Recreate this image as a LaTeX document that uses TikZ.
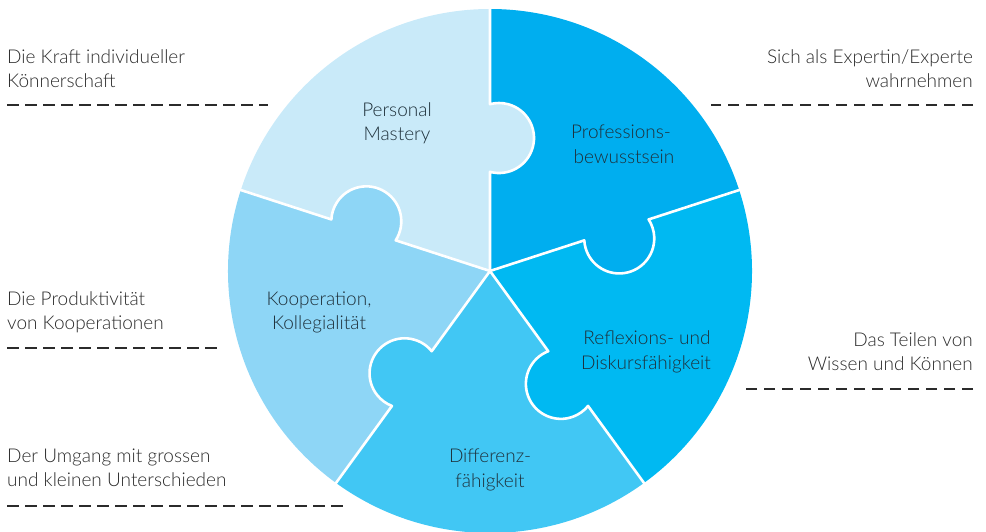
\documentclass[tikz,border=0pt]{standalone}
\usepackage{fontspec}
\setmainfont{Lato Light}
\definecolor{cPM}{HTML}{C9EAF9}
\definecolor{cPB}{HTML}{00AEEF}
\definecolor{cRD}{HTML}{00B9F2}
\definecolor{cKK}{HTML}{8ED6F6}
\definecolor{cDF}{HTML}{41C7F4}
\definecolor{txt}{HTML}{2B2B2B}
\definecolor{intxt}{HTML}{1E303A}
\begin{document}
\begin{tikzpicture}[x=1pt,y=1pt,
  lbl/.style={font=\fontsize{19}{24}\selectfont, text=txt, inner sep=0pt},
  lblL/.style={lbl, anchor=base west},
  lblR/.style={lbl, anchor=base east},
  lblC/.style={lbl, text=intxt, anchor=base},
  guide/.style={draw=txt, line width=1.8pt, dash pattern=on 11.5pt off 6.5pt},
  seam/.style={draw=white, line width=2.6pt, line join=round}
]
\useasboundingbox (0,0) rectangle (986,532);
\coordinate (O) at (490,261);
\def\R{262}
\begin{scope}[shift={(O)}]
  % sectors
  \fill[cPM] (0,0) -- (90:\R) arc[start angle=90, end angle=162, radius=\R] -- cycle;
  \fill[cPB] (0,0) -- (18:\R) arc[start angle=18, end angle=90, radius=\R] -- cycle;
  \fill[cRD] (0,0) -- (-54:\R) arc[start angle=-54, end angle=18, radius=\R] -- cycle;
  \fill[cDF] (0,0) -- (-126:\R) arc[start angle=-126, end angle=-54, radius=\R] -- cycle;
  \fill[cKK] (0,0) -- (162:\R) arc[start angle=162, end angle=234, radius=\R] -- cycle;
  % knobs
  \foreach \t/\c in {90/cPM, 18/cPB, -54/cRD, -126/cDF, 162/cKK}{
    \fill[\c] ({\t-3.87}:133.3) circle[radius=35];
  }
  % seams
  \foreach \t in {90, 18, -54, -126, 162}{
    \draw[seam] (0,0) -- (\t:99.16)
      arc[start angle={\t+165.1}, end angle={\t+374.9}, radius=35]
      -- (\t:266);
  }
\end{scope}

% inner labels
\node[lblC] (pm1) at (397,415) {Personal};
\node[lblC] (pm2) at (397,391) {Mastery};
\node[lblC] (pb1) at (621,393) {Professions-};
\node[lblC] (pb2) at (624,368) {bewusstsein};
\node[lblC] (kk1) at (319,226) {Kooperation,};
\node[lblC] (kk2) at (319,202) {Kollegialität};
\node[lblC] (rd1) at (647,187) {Reflexions- und};
\node[lblC] (rd2) at (646,162) {Diskursfähigkeit};
\node[lblC] (df1) at (490,69) {Differenz-};
\node[lblC] (df2) at (490,44) {fähigkeit};

% outer labels left
\node[lblL] (l1a) at (7,468) {Die Kraft individueller};
\node[lblL] (l1b) at (7,444) {Könnerschaft};
\coordinate (d1s) at (7,427); \coordinate (d1e) at (268,427);
\draw[guide] (d1s) -- (d1e);

\node[lblL] (l2a) at (7,226) {Die Produktivität};
\node[lblL] (l2b) at (7,202) {von Kooperationen};
\coordinate (d2s) at (7,184); \coordinate (d2e) at (220,184);
\draw[guide] (d2s) -- (d2e);

\node[lblL] (l3a) at (7,69) {Der Umgang mit grossen};
\node[lblL] (l3b) at (7,45) {und kleinen Unterschieden};
\coordinate (d3s) at (7,26); \coordinate (d3e) at (345,26);
\draw[guide] (d3s) -- (d3e);

% outer labels right
\node[lblR] (r1a) at (973,468) {Sich als Expertin/Experte};
\node[lblR] (r1b) at (973,444) {wahrnehmen};
\coordinate (e1s) at (973,427); \coordinate (e1e) at (711,427);
\draw[guide] (e1s) -- (e1e);

\node[lblR] (r2a) at (973,185) {Das Teilen von};
\node[lblR] (r2b) at (973,161) {Wissen und Können};
\coordinate (e2s) at (973,143); \coordinate (e2e) at (743,143);
\draw[guide] (e2s) -- (e2e);
\end{tikzpicture}
\end{document}
